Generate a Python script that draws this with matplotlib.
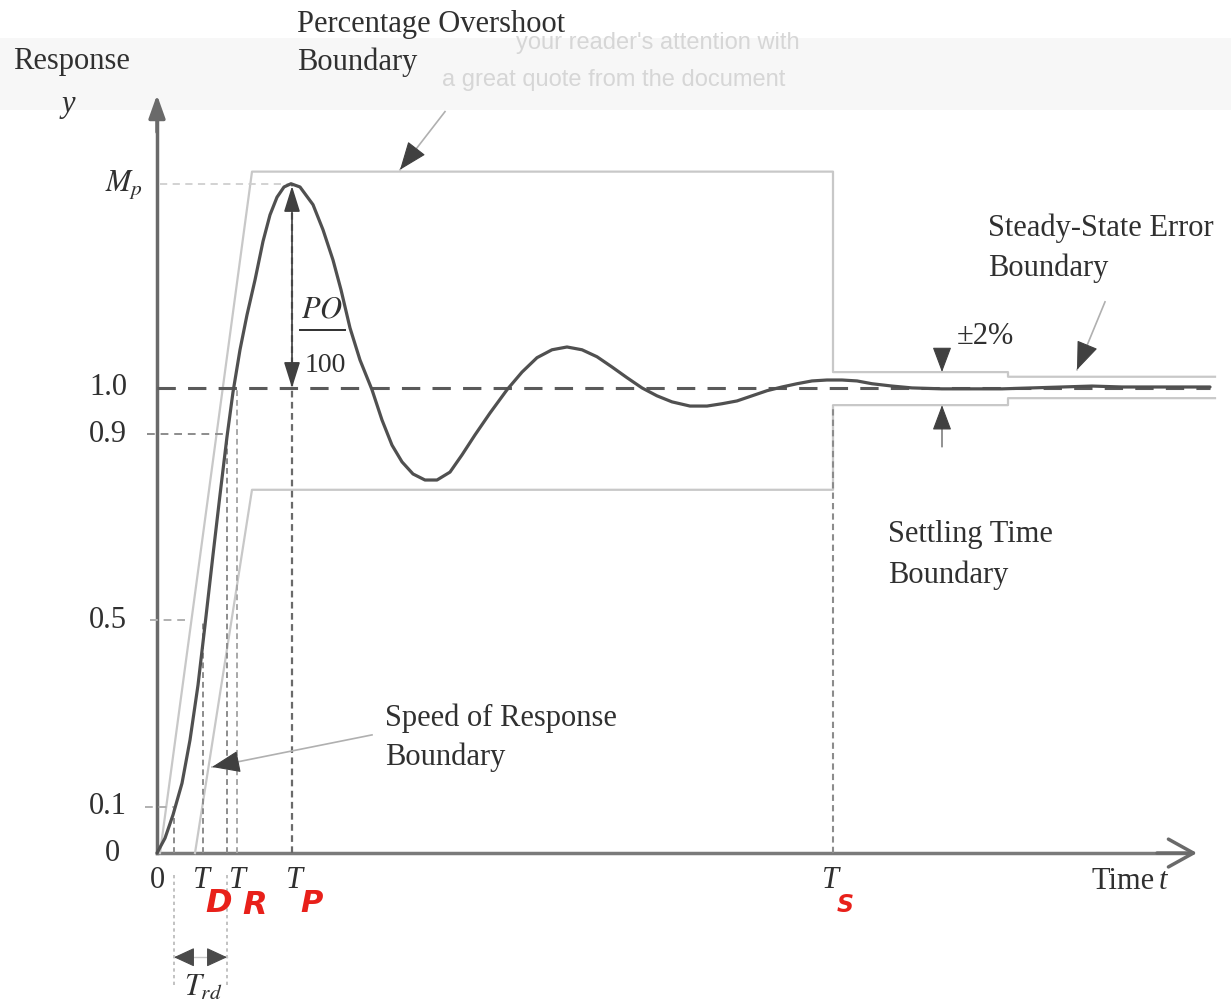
import numpy as np
import matplotlib.pyplot as plt
from matplotlib.patches import Rectangle

plt.rcParams['font.family'] = ['Liberation Serif', 'DejaVu Serif']
plt.rcParams['mathtext.fontset'] = 'stix'

# step response (time in arbitrary units, y normalised)
curve_t = [0, 0.08, 0.16, 0.25, 0.33, 0.41, 0.48, 0.56, 0.63, 0.70, 0.76, 0.83,
           0.90, 0.98, 1.06, 1.13, 1.20, 1.27, 1.34, 1.43, 1.56, 1.66, 1.76, 1.84,
           1.93, 2.03, 2.15, 2.25, 2.35, 2.45, 2.56, 2.68, 2.80, 2.93, 3.05, 3.18,
           3.33, 3.50, 3.65, 3.80, 3.95, 4.10, 4.25, 4.40, 4.55, 4.70, 4.85, 5.00,
           5.15, 5.33, 5.50, 5.65, 5.80, 5.95, 6.10, 6.25, 6.40, 6.55, 6.70, 6.85,
           7.00, 7.15, 7.35, 7.55, 7.85, 8.15, 8.45, 8.75, 9.05, 9.35, 9.65, 9.95,
           10.25, 10.53]
curve_y = [0, 0.032, 0.082, 0.15, 0.243, 0.361, 0.49, 0.641, 0.77, 0.895, 0.991, 1.082,
           1.157, 1.232, 1.315, 1.372, 1.41, 1.432, 1.439, 1.432, 1.394, 1.34, 1.275, 1.211,
           1.129, 1.06, 0.996, 0.931, 0.877, 0.841, 0.815, 0.802, 0.802, 0.819, 0.856, 0.899,
           0.946, 0.996, 1.034, 1.065, 1.082, 1.088, 1.082, 1.067, 1.045, 1.022, 1.0, 0.983,
           0.970, 0.961, 0.961, 0.966, 0.972, 0.983, 0.994, 1.002, 1.009, 1.015, 1.017, 1.017,
           1.015, 1.009, 1.004, 1.0, 0.998, 0.998, 0.998, 1.0, 1.002, 1.004, 1.002, 1.002,
           1.002, 1.002]

# boundaries
upper_t = [0.03, 0.95, 6.76, 6.76, 8.51, 8.51, 10.58]
upper_y = [0, 1.465, 1.465, 1.034, 1.034, 1.024, 1.024]
lower_t = [0.38, 0.95, 6.76, 6.76, 8.51, 8.51, 10.58]
lower_y = [0, 0.781, 0.781, 0.963, 0.963, 0.978, 0.978]

ytick_vals = [1.0, 0.9, 0.5, 0.1, 0]
ytick_labels = ['1.0', '0.9', '0.5', '0.1', '0']

t_10 = 0.17
t_d = 0.46
t_90 = 0.70
t_r = 0.80
t_p = 1.35
t_s = 6.76
y_peak = 1.439
band_hi = 1.034
band_lo = 0.963

fig = plt.figure(figsize=(12.31, 10.07), dpi=100)
ax = fig.add_axes([0, 0, 1, 1])
ax.set_xlim(-1.57, 10.74)
ax.set_ylim(-0.331, 1.834)
ax.axis('off')

dark = '#505050'
light = '#c8c8c8'
mid = '#8c8c8c'
fs = 22

# faint scanned text box at the top
ax.add_patch(Rectangle((-1.57, 1.598), 12.31, 0.155, color='#f7f7f7', zorder=0, lw=0))
ax.text(6.43, 1.742, "your reader's attention with", family='Liberation Sans', fontsize=17,
        color='#d6d6d6', ha='right', va='center', zorder=1)
ax.text(6.28, 1.662, "a great quote from the document", family='Liberation Sans', fontsize=17,
        color='#d6d6d6', ha='right', va='center', zorder=1)

# axes with arrows
ax.plot([0, 0], [0, 1.6], color='#6a6a6a', lw=2.5)
ax.annotate('', xy=(0, 1.63), xytext=(0, 1.55),
            arrowprops=dict(arrowstyle='-|>,head_length=0.7,head_width=0.25', color='#6a6a6a',
                            lw=2.5, mutation_scale=20, shrinkA=0, shrinkB=0))
ax.plot([0, 10.3], [0, 0], color='#7a7a7a', lw=2.5)
ax.annotate('', xy=(10.40, 0), xytext=(10.0, 0),
            arrowprops=dict(arrowstyle='->,head_length=0.9,head_width=0.5', color='#6a6a6a',
                            lw=2.5, mutation_scale=20, shrinkA=0, shrinkB=0))

# boundaries
ax.plot(upper_t, upper_y, color=light, lw=1.6, zorder=2)
ax.plot(lower_t, lower_y, color=light, lw=1.6, zorder=2)

# guide lines
ax.plot([0, 10.53], [1.0, 1.0], color='#5a5a5a', lw=2.2, dashes=(6, 4), zorder=3)
ax.plot([-0.1, t_90], [0.9, 0.9], color=mid, lw=1.4, dashes=(4, 3), zorder=2)
ax.plot([-0.07, 0.33], [0.5, 0.5], color='#b0b0b0', lw=1.4, dashes=(4, 3), zorder=2)
ax.plot([-0.12, t_10], [0.1, 0.1], color='#b0b0b0', lw=1.4, dashes=(4, 3), zorder=2)
ax.plot([0.03, t_p], [y_peak, y_peak], color='#cfcfcf', lw=1.3, dashes=(4, 3), zorder=2)

ax.plot([t_10, t_10], [0, 0.1], color=mid, lw=1.4, dashes=(3, 2), zorder=2)
ax.plot([t_d, t_d], [0, 0.5], color=mid, lw=1.4, dashes=(3, 2), zorder=2)
ax.plot([t_90, t_90], [0, 0.9], color=mid, lw=1.4, dashes=(3, 2), zorder=2)
ax.plot([t_r, t_r], [0, 1.0], color='#a8a8a8', lw=1.4, dashes=(3, 2), zorder=2)
ax.plot([t_p, t_p], [0, y_peak], color='#6a6a6a', lw=1.6, dashes=(3, 2), zorder=2)
ax.plot([t_s, t_s], [0, band_lo], color=mid, lw=1.5, dashes=(3, 2), zorder=2)

# T_rd extension lines and arrow
ax.plot([t_10, t_10], [-0.047, -0.284], color='#b8b8b8', lw=1.2, dashes=(2, 2))
ax.plot([t_90, t_90], [-0.047, -0.284], color='#b8b8b8', lw=1.2, dashes=(2, 2))
ax.plot([t_10, t_90], [-0.224, -0.224], color='#c8c8c8', lw=1.0)
for tip, tail in [(t_10, t_10 + 0.18), (t_90, t_90 - 0.18)]:
    ax.annotate('', xy=(tip, -0.224), xytext=(tail, -0.224),
                arrowprops=dict(arrowstyle='-|>,head_length=0.65,head_width=0.3', color='#4a4a4a',
                                lw=0.8, mutation_scale=20, shrinkA=0, shrinkB=0))

# response curve
ax.plot(curve_t, curve_y, color=dark, lw=2.3, zorder=4, solid_capstyle='round')

# PO / 100 arrow
ax.annotate('', xy=(t_p, y_peak - 0.005), xytext=(t_p, 1.0),
            arrowprops=dict(arrowstyle='<|-|>,head_length=0.8,head_width=0.25', color='#404040',
                            lw=1.2, mutation_scale=20, shrinkA=0, shrinkB=0), zorder=5)
ax.text(1.65, 1.168, '$PO$', fontsize=fs, ha='center', va='center', color='#303030')
ax.plot([1.43, 1.88], [1.125, 1.125], color='#303030', lw=1.4)
ax.text(1.68, 1.049, '100', fontsize=fs - 2, ha='center', va='center', color='#303030')

# +-2% arrows
ax.annotate('', xy=(7.85, band_hi), xytext=(7.85, 1.082),
            arrowprops=dict(arrowstyle='-|>,head_length=0.8,head_width=0.3', color='#404040',
                            lw=0.8, mutation_scale=20, shrinkA=0, shrinkB=0))
ax.annotate('', xy=(7.85, band_lo), xytext=(7.85, 0.873),
            arrowprops=dict(arrowstyle='-|>,head_length=0.8,head_width=0.3', color='#404040',
                            lw=0.8, mutation_scale=20, shrinkA=0, shrinkB=0))
ax.text(8.28, 1.11, '±2%', fontsize=fs, ha='center', va='center', color='#303030')


def pointer(x0, y0, x1, y1):
    # light leader line with a dark head at (x1, y1)
    ax.plot([x0, x1], [y0, y1], color='#b0b0b0', lw=1.2)
    xm = x1 + (x0 - x1) * 0.12
    ym = y1 + (y0 - y1) * 0.12
    ax.annotate('', xy=(x1, y1), xytext=(xm, ym),
                arrowprops=dict(arrowstyle='-|>,head_length=0.9,head_width=0.35', color='#404040',
                                lw=0.8, mutation_scale=20, shrinkA=0, shrinkB=0), zorder=6)


pointer(2.88, 1.594, 2.43, 1.469)
pointer(9.48, 1.185, 9.20, 1.039)
pointer(2.15, 0.254, 0.55, 0.185)

# labels
txt = dict(fontsize=fs, color='#303030', va='center')
ax.text(-0.85, 1.701, 'Response', ha='center', **txt)
ax.text(-0.89, 1.609, 'y', ha='center', style='italic', **txt)
ax.text(-0.33, 1.437, '$M_p$', ha='center', **txt)
for v, lab in zip(ytick_vals, ytick_labels):
    ax.text(-0.49 if lab != '0' else -0.45, v, lab, ha='center', **txt)
ax.text(0, -0.058, '0', ha='center', **txt)
for tt in [0.45, 0.81, 1.38, 6.73]:
    ax.text(tt, -0.058, 'T', ha='center', style='italic', **txt)
ax.text(9.66, -0.062, 'Time', ha='center', **txt)
ax.text(10.06, -0.062, 't', ha='center', style='italic', **txt)
ax.text(0.46, -0.29, '$T_{rd}$', ha='center', **txt)

ax.text(1.40, 1.781, 'Percentage Overshoot', ha='left', **txt)
ax.text(1.40, 1.701, 'Boundary', ha='left', **txt)
ax.text(8.31, 1.344, 'Steady-State Error', ha='left', **txt)
ax.text(8.31, 1.258, 'Boundary', ha='left', **txt)
ax.text(7.31, 0.684, 'Settling Time', ha='left', **txt)
ax.text(7.31, 0.598, 'Boundary', ha='left', **txt)
ax.text(2.28, 0.290, 'Speed of Response', ha='left', **txt)
ax.text(2.28, 0.206, 'Boundary', ha='left', **txt)

# red handwritten subscripts
red = dict(color='#e8201a', family='DejaVu Sans', weight='bold', style='italic',
           ha='center', va='center')
ax.text(0.62, -0.108, 'D', fontsize=23, **red)
ax.text(0.98, -0.112, 'R', fontsize=23, **red)
ax.text(1.55, -0.108, 'P', fontsize=22, **red)
ax.text(6.88, -0.112, 'S', fontsize=17, **red)

fig.savefig('out.png', dpi=100)
